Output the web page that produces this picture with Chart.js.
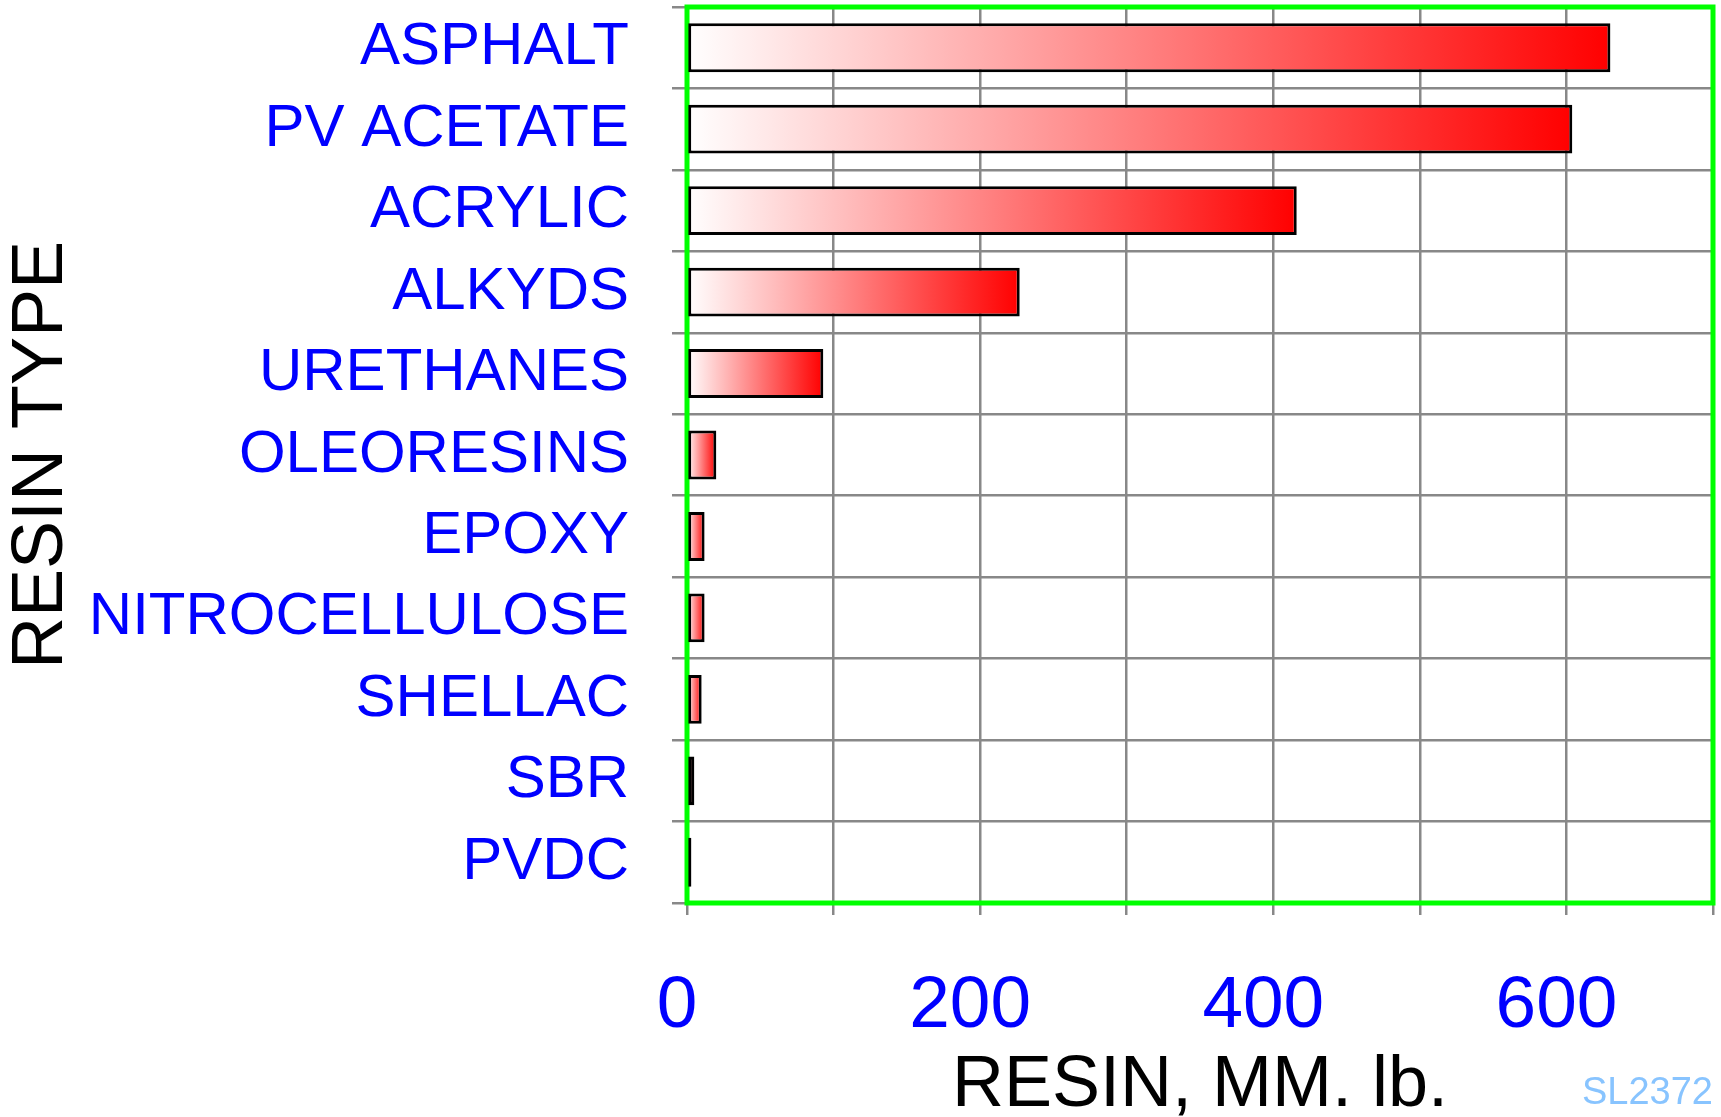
<!DOCTYPE html>
<html>
<head>
  <title>Resin Type</title>
  <script src="https://cdn.jsdelivr.net/npm/chart.js"></script>
  <style>
    body { margin: 0; background: #fff; }
    #wrap { width: 1721px; height: 1117px; }
  </style>
</head>
<body>
  <div id="wrap"><canvas id="resinChart"></canvas></div>

  <script>
    const resinTypes = ['ASPHALT', 'PV ACETATE', 'ACRYLIC', 'ALKYDS', 'URETHANES', 'OLEORESINS',
      'EPOXY', 'NITROCELLULOSE', 'SHELLAC', 'SBR', 'PVDC'];
    const resinMMlb = [630, 604, 416, 227, 93, 20, 12, 12, 10, 5, 3];
    const xTickLabels = [0, 200, 400, 600];

    const FONT = "'Liberation Sans', Arial, sans-serif";

    // white -> red gradient running along each bar, from its base to its end
    function barFill(c) {
      const x = c.chart.scales.x;
      if (!x || c.raw === undefined) return '#ff8080';
      const x0 = x.getPixelForValue(0);
      const x1 = x.getPixelForValue(c.raw);
      if (!isFinite(x0) || !isFinite(x1) || x1 - x0 < 1) return '#ff8080';
      const g = c.chart.ctx.createLinearGradient(x0, 0, x1, 0);
      g.addColorStop(0, '#ffffff');
      g.addColorStop(1, '#ff0000');
      return g;
    }

    // green frame round the plot, under the bars
    const plotFrame = {
      id: 'plotFrame',
      beforeDatasetsDraw(chart) {
        const ctx = chart.ctx;
        const a = chart.chartArea;
        ctx.save();
        ctx.strokeStyle = '#00ff00';
        ctx.lineWidth = 5;
        ctx.strokeRect(a.left, a.top, a.right - a.left, a.bottom - a.top);
        ctx.restore();
      }
    };

    const sideNote = {
      id: 'sideNote',
      afterDraw(chart) {
        const ctx = chart.ctx;
        ctx.save();
        ctx.font = '38px ' + FONT;
        ctx.fillStyle = '#88c4ff';
        ctx.textAlign = 'right';
        ctx.textBaseline = 'alphabetic';
        ctx.fillText('SL2372', 1713, 1104);
        ctx.restore();
      }
    };

    function noLabelPadding(s) {
      s.paddingTop = 0;
      s.paddingBottom = 0;
      s.paddingLeft = 0;
      s.paddingRight = 0;
    }

    const ctx = document.getElementById('resinChart').getContext('2d');
    const resinChart = new Chart(ctx, {
      type: 'bar',
      data: {
        labels: resinTypes,
        datasets: [{
          data: resinMMlb,
          backgroundColor: barFill,
          borderColor: '#000000',
          borderWidth: 3,
          borderSkipped: false,
          barPercentage: 0.6,
          categoryPercentage: 1
        }]
      },
      options: {
        indexAxis: 'y',
        responsive: true,
        maintainAspectRatio: false,
        animation: false,
        layout: { padding: { top: 7, right: 8, left: 0, bottom: 0 } },
        plugins: {
          legend: { display: false },
          tooltip: { enabled: false }
        },
        scales: {
          x: {
            min: 0,
            max: 700,
            border: { display: false },
            grid: { color: '#888888', lineWidth: 2.5, tickLength: 12 },
            ticks: {
              stepSize: 100,
              autoSkip: false,
              maxRotation: 0,
              padding: 48,
              labelOffset: -10,
              color: '#0000ff',
              font: { family: FONT, size: 73 },
              callback: v => xTickLabels.includes(v) ? String(v) : ''
            },
            title: {
              display: true,
              text: 'RESIN, MM. lb.',
              color: '#000000',
              font: { family: FONT, size: 72, lineHeight: 0.86 },
              padding: { top: 0, bottom: 0 }
            },
            afterFit: s => { s.height = 214; noLabelPadding(s); }
          },
          y: {
            border: { display: false },
            grid: { color: '#888888', lineWidth: 2.5, tickLength: 15 },
            ticks: {
              autoSkip: false,
              padding: 43,
              color: '#0000ff',
              font: { family: FONT, size: 60 }
            },
            title: {
              display: true,
              text: 'RESIN TYPE',
              color: '#000000',
              font: { family: FONT, size: 72, lineHeight: 1 },
              padding: { top: 6, bottom: 0 }
            },
            afterFit: s => { s.width = 687; noLabelPadding(s); }
          }
        }
      },
      plugins: [plotFrame, sideNote]
    });
  </script>
</body>
</html>
